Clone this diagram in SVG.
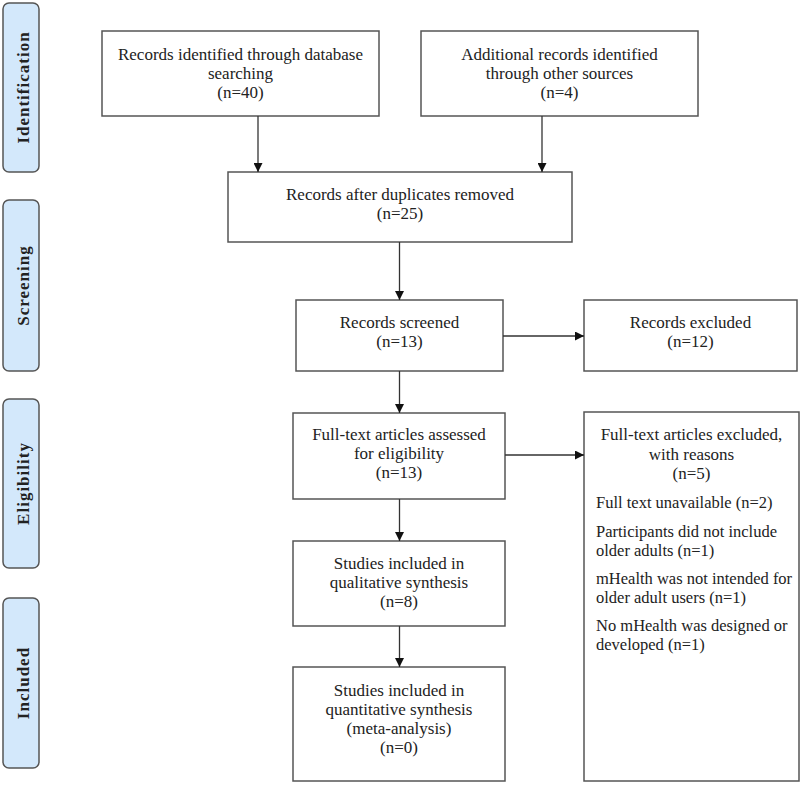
<svg xmlns="http://www.w3.org/2000/svg" width="800" height="785" viewBox="0 0 800 785">
<style>
.box{fill:#fff;stroke:#555;stroke-width:1.5}
.side{fill:#d3e8fb;stroke:#555;stroke-width:1.5}
.t{font-family:"Liberation Serif","Times New Roman",serif;font-size:17px;fill:#222}
.l{font-size:16.5px}
.c{text-anchor:middle}
.s{font-family:"Liberation Serif","Times New Roman",serif;font-size:17px;font-weight:bold;fill:#222;text-anchor:middle;letter-spacing:1px}
.ln{stroke:#333;stroke-width:1.3;fill:none;marker-end:url(#ah)}
</style>
<defs>
<marker id="ah" viewBox="0 0 10 10" refX="10" refY="5" markerUnits="userSpaceOnUse" markerWidth="9" markerHeight="9" orient="auto">
<path d="M0,0 L10,5 L0,10 z" fill="#111"/>
</marker>
</defs>
<rect width="800" height="785" fill="#fff"/>
<g id="phase-identification"><rect class="side" x="3" y="3" width="36" height="169" rx="6"/><text class="s" transform="translate(29,87.5) rotate(-90)">Identification</text></g>
<g id="phase-screening"><rect class="side" x="3" y="200" width="36" height="171" rx="6"/><text class="s" transform="translate(29,285.5) rotate(-90)">Screening</text></g>
<g id="phase-eligibility"><rect class="side" x="3" y="399" width="36" height="169" rx="6"/><text class="s" transform="translate(29,483.5) rotate(-90)">Eligibility</text></g>
<g id="phase-included"><rect class="side" x="3" y="598" width="36" height="170" rx="6"/><text class="s" transform="translate(29,683) rotate(-90)">Included</text></g>

<g id="n-database"><rect class="box" x="102" y="31" width="277" height="85"/>
<text class="t c" x="240.5" y="60">Records identified through database</text>
<text class="t c" x="240.5" y="79">searching</text>
<text class="t c" x="240.5" y="98">(n=40)</text></g>
<g id="n-other"><rect class="box" x="421" y="31" width="277" height="85"/>
<text class="t c" x="559.5" y="60">Additional records identified</text>
<text class="t c" x="559.5" y="79">through other sources</text>
<text class="t c" x="559.5" y="98">(n=4)</text></g>
<g id="n-dedup"><rect class="box" x="228" y="172" width="344" height="70"/>
<text class="t c" x="400" y="200">Records after duplicates removed</text>
<text class="t c" x="400" y="219">(n=25)</text></g>
<g id="n-screened"><rect class="box" x="296" y="300" width="207" height="71"/>
<text class="t c" x="399.5" y="328">Records screened</text>
<text class="t c" x="399.5" y="347">(n=13)</text></g>
<g id="n-excluded"><rect class="box" x="584" y="300" width="213" height="71"/>
<text class="t c" x="690.5" y="328">Records excluded</text>
<text class="t c" x="690.5" y="347">(n=12)</text></g>
<g id="n-fulltext"><rect class="box" x="293" y="413" width="212" height="86"/>
<text class="t c" x="399" y="440">Full-text articles assessed</text>
<text class="t c" x="399" y="459">for eligibility</text>
<text class="t c" x="399" y="478">(n=13)</text></g>
<g id="n-ftexcluded"><rect class="box" x="584" y="412" width="215" height="369"/>
<text class="t c" x="691.5" y="440">Full-text articles excluded,</text>
<text class="t c" x="691.5" y="460">with reasons</text>
<text class="t c" x="691.5" y="479">(n=5)</text>
<text class="t l" x="596" y="508">Full text unavailable (n=2)</text>
<text class="t l" x="596" y="537">Participants did not include</text>
<text class="t l" x="596" y="556">older adults (n=1)</text>
<text class="t l" x="596" y="584">mHealth was not intended for</text>
<text class="t l" x="596" y="603">older adult users (n=1)</text>
<text class="t l" x="596" y="631">No mHealth was designed or</text>
<text class="t l" x="596" y="650">developed (n=1)</text></g>
<g id="n-qual"><rect class="box" x="293" y="541" width="212" height="85"/>
<text class="t c" x="399" y="569">Studies included in</text>
<text class="t c" x="399" y="588">qualitative synthesis</text>
<text class="t c" x="399" y="607">(n=8)</text></g>
<g id="n-quant"><rect class="box" x="293" y="667" width="212" height="114"/>
<text class="t c" x="399" y="696">Studies included in</text>
<text class="t c" x="399" y="715">quantitative synthesis</text>
<text class="t c" x="399" y="734">(meta-analysis)</text>
<text class="t c" x="399" y="753">(n=0)</text></g>

<g id="connectors">
<line class="ln" x1="258" y1="116" x2="258" y2="172"/>
<line class="ln" x1="542" y1="116" x2="542" y2="172"/>
<line class="ln" x1="399.5" y1="242" x2="399.5" y2="300"/>
<line class="ln" x1="503" y1="336" x2="584" y2="336"/>
<line class="ln" x1="399.5" y1="371" x2="399.5" y2="413"/>
<line class="ln" x1="505" y1="455" x2="584" y2="455"/>
<line class="ln" x1="399.5" y1="499" x2="399.5" y2="541"/>
<line class="ln" x1="399.5" y1="626" x2="399.5" y2="667"/>
</g>
</svg>
